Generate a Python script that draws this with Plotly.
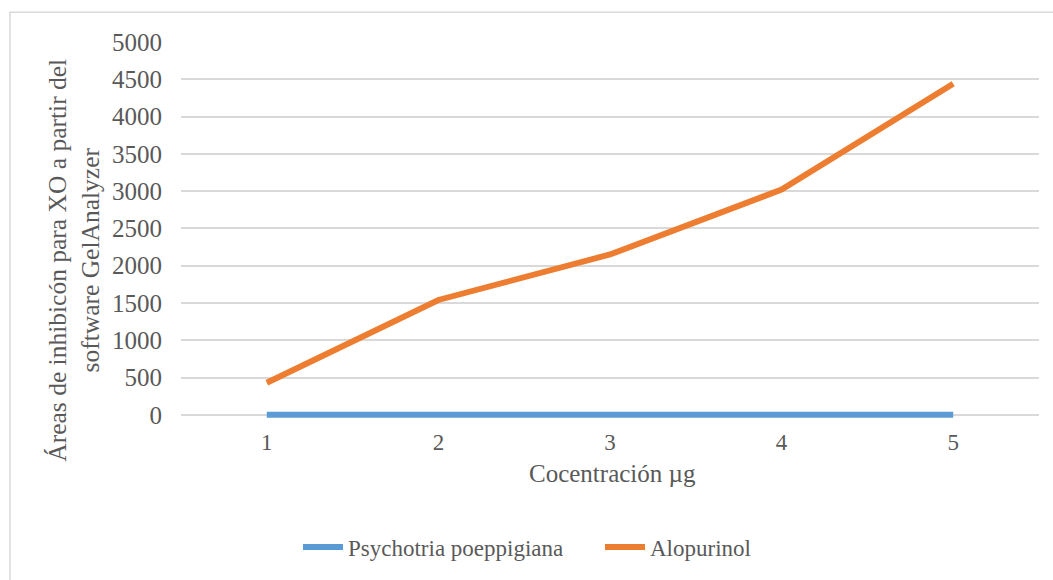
import plotly.graph_objects as go

# Concentration levels (µg) and measured inhibition areas
concentracion = [1, 2, 3, 4, 5]
psychotria = [0, 0, 0, 0, 0]
alopurinol = [430, 1540, 2150, 3020, 4440]
y_ticks = [0, 500, 1000, 1500, 2000, 2500, 3000, 3500, 4000, 4500, 5000]

TEXT = "#595959"
FONT = "Liberation Serif"

W, H = 1053, 580
# value axis: 5000 sits at 42 px, 0 at 417 px; a little headroom below 0
# keeps the zero-valued line from being clipped by the plot area
Y_MIN, Y_MAX = -70, 5000
PX_PER_UNIT = (417 - 42) / 5000
plot_bottom = 417 - Y_MIN * PX_PER_UNIT
L, R, T, B = 181, 14, 42, H - plot_bottom
pw, ph = W - L - R, H - T - B


def px(xp):
    return (xp - L) / pw


def py(yp):
    return (H - B - yp) / ph


fig = go.Figure()
fig.add_trace(go.Scatter(
    x=concentracion, y=psychotria, mode="lines", name="Psychotria poeppigiana",
    line=dict(color="#5B9BD5", width=6), legend="legend",
))
fig.add_trace(go.Scatter(
    x=concentracion, y=alopurinol, mode="lines", name="Alopurinol",
    line=dict(color="#ED7D31", width=6), legend="legend2",
))

legend_common = dict(
    orientation="h", yanchor="middle", y=py(550), xanchor="left",
    font=dict(family=FONT, size=23, color=TEXT), bgcolor="rgba(0,0,0,0)",
    itemwidth=40,
)

fig.update_layout(
    width=W, height=H,
    margin=dict(l=L, r=R, t=T, b=B),
    paper_bgcolor="white", plot_bgcolor="white",
    font=dict(family=FONT, size=24, color=TEXT),
    showlegend=True,
    legend=dict(legend_common, x=px(298)),
    legend2=dict(legend_common, x=px(600)),
    xaxis=dict(
        range=[0.5, 5.5], tickmode="array", tickvals=concentracion,
        ticktext=[str(c) for c in concentracion],
        showgrid=False, zeroline=False, showline=False, ticks="",
        ticklabelstandoff=6,
        tickfont=dict(family=FONT, size=23, color=TEXT),
    ),
    yaxis=dict(
        range=[Y_MIN, Y_MAX], tickmode="array", tickvals=y_ticks,
        showgrid=True, gridcolor="#D9D9D9", gridwidth=1.5,
        zeroline=False, showline=False, ticks="",
        ticklabelstandoff=18,
        tickfont=dict(family=FONT, size=25, color=TEXT),
    ),
    shapes=[dict(
        type="rect", xref="paper", yref="paper",
        x0=px(10), x1=px(1070), y0=py(600), y1=py(12),
        line=dict(color="#D9D9D9", width=1.5), fillcolor="rgba(0,0,0,0)",
        layer="below",
    )],
    annotations=[
        dict(text="Cocentración µg", xref="paper", yref="paper",
             x=px(612), y=py(476), xanchor="center", yanchor="middle",
             showarrow=False, font=dict(family=FONT, size=25, color=TEXT)),
        dict(text="Áreas de inhibicón para XO a partir del<br>software GelAnalyzer",
             xref="paper", yref="paper", x=px(74), y=py(262),
             xanchor="center", yanchor="middle", textangle=-90,
             showarrow=False, font=dict(family=FONT, size=25.5, color=TEXT)),
    ],
)

fig.write_html("out.html")
